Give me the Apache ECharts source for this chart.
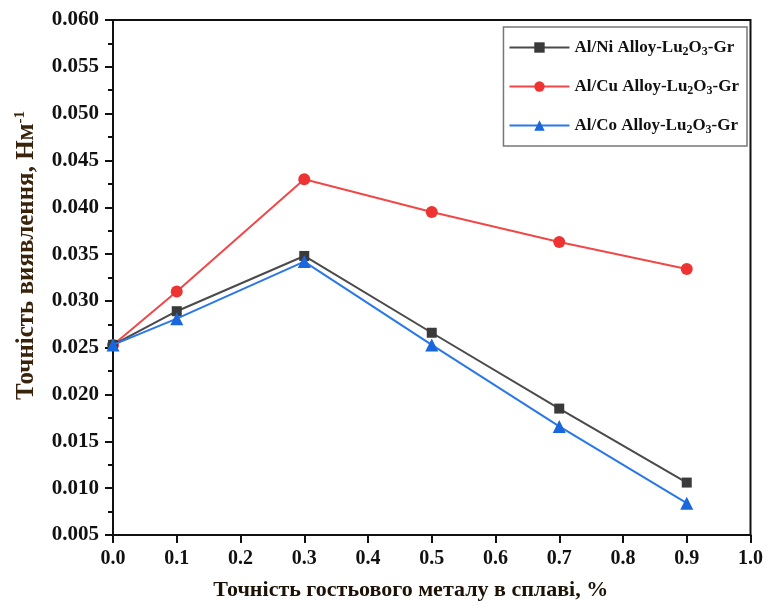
<!DOCTYPE html>
<html>
<head>
<meta charset="utf-8">
<script src="https://cdn.jsdelivr.net/npm/echarts@6/dist/echarts.min.js"></script>
<style>
  html, body { margin: 0; padding: 0; background: #fff; }
  #chart { width: 766px; height: 606px; }
</style>
</head>
<body>
<div id="chart"></div>
<script>
// Guest-metal content, %
const xValues = [0.0, 0.1, 0.3, 0.5, 0.7, 0.9];

// Detection accuracy, nm^-1
const niValues = [0.0253, 0.0289, 0.0348, 0.0266, 0.0185, 0.0106];
const cuValues = [0.0253, 0.0310, 0.0430, 0.0395, 0.0363, 0.0334];
const coValues = [0.0253, 0.0281, 0.0342, 0.0253, 0.0166, 0.0084];

const seriesNames = ['Al/Ni Alloy-Lu2O3-Gr', 'Al/Cu Alloy-Lu2O3-Gr', 'Al/Co Alloy-Lu2O3-Gr'];
const legendPrefixes = ['Al/Ni Alloy-Lu', 'Al/Cu Alloy-Lu', 'Al/Co Alloy-Lu'];

const xTitle = 'Точність гостьового металу в сплаві, %';
const yTitle = 'Точність виявлення, Нм';

const FONT = '"Liberation Serif", "DejaVu Serif", serif';

function pairs(ys) {
  return xValues.map((x, i) => [x, ys[i]]);
}

const chart = echarts.init(document.getElementById('chart'), null, { renderer: 'canvas' });

const labelBase = { color: '#111', fontFamily: FONT, fontWeight: 'bold' };

chart.setOption({
  animation: false,
  backgroundColor: '#fff',
  grid: {
    left: 113, right: 14, top: 20, bottom: 69,
    show: true, borderColor: '#111', borderWidth: 2, backgroundColor: 'transparent'
  },
  legend: {
    right: 19, top: 27,
    orient: 'vertical',
    itemWidth: 60, itemHeight: 13, itemGap: 18,
    padding: [10, 8, 10, 5],
    borderColor: '#777', borderWidth: 1.5,
    backgroundColor: '#fff',
    data: seriesNames,
    formatter: function (name) {
      const i = seriesNames.indexOf(name);
      return '{t|' + legendPrefixes[i] + '}{s|2}{t|O}{s|3}{t|-Gr}';
    },
    textStyle: {
      rich: {
        t: { fontFamily: FONT, fontWeight: 'bold', fontSize: 17, color: '#111', lineHeight: 22 },
        s: { fontFamily: FONT, fontWeight: 'bold', fontSize: 12, color: '#111', padding: [9, 0, 0, 0], lineHeight: 22 }
      }
    }
  },
  xAxis: {
    type: 'value', min: 0, max: 1, interval: 0.1,
    name: xTitle, nameLocation: 'middle', nameGap: 44,
    nameTextStyle: { fontFamily: FONT, fontWeight: 'bold', fontSize: 22, color: '#1c1206', padding: [0, 42, 0, 0] },
    axisLine: { show: true, lineStyle: { color: '#111', width: 2 } },
    axisTick: { show: true, inside: false, length: 8, lineStyle: { color: '#111', width: 2 } },
    axisLabel: Object.assign({ margin: 14, fontSize: 20, formatter: v => v.toFixed(1) }, labelBase),
    splitLine: { show: false }
  },
  yAxis: {
    type: 'value', min: 0.005, max: 0.060, interval: 0.005,
    name: '{m|' + yTitle + '}{p|-1}', nameLocation: 'middle', nameGap: 73,
    nameTextStyle: {
      padding: [0, 0, 0, 44],
      rich: {
        m: { fontFamily: FONT, fontWeight: 'bold', fontSize: 25, color: '#3a230b' },
        p: { fontFamily: FONT, fontWeight: 'bold', fontSize: 15, color: '#3a230b', padding: [0, 0, 12, 0] }
      }
    },
    axisLine: { show: true, lineStyle: { color: '#111', width: 2 } },
    axisTick: { show: true, inside: false, length: 8, lineStyle: { color: '#111', width: 2 } },
    minorTick: { show: true, splitNumber: 2, length: 5, lineStyle: { color: '#111', width: 2 } },
    axisLabel: Object.assign({ margin: 14, fontSize: 21, formatter: v => v.toFixed(3) }, labelBase),
    splitLine: { show: false }
  },
  series: [
    {
      name: seriesNames[0], type: 'line', data: pairs(niValues),
      symbol: 'rect', symbolSize: 10,
      lineStyle: { color: '#4a4a4a', width: 2 },
      itemStyle: { color: '#3a3a3a' }, z: 3
    },
    {
      name: seriesNames[1], type: 'line', data: pairs(cuValues),
      symbol: 'circle', symbolSize: 12,
      lineStyle: { color: '#f04848', width: 2 },
      itemStyle: { color: '#ee3333' }, z: 2
    },
    {
      name: seriesNames[2], type: 'line', data: pairs(coValues),
      symbol: 'triangle', symbolSize: 13,
      lineStyle: { color: '#2a78e8', width: 2 },
      itemStyle: { color: '#1a66dd' }, z: 4
    }
  ]
});
</script>
</body>
</html>
